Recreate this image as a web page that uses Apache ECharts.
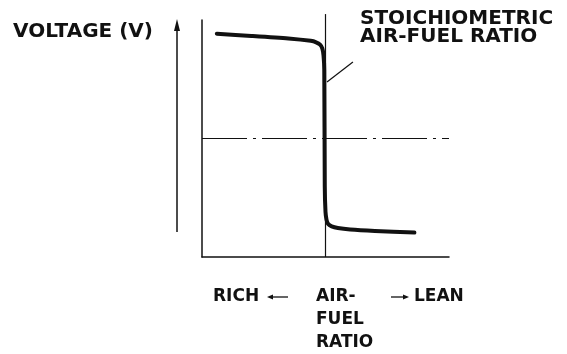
<!DOCTYPE html>
<html>
<head>
<meta charset="utf-8">
<script src="https://cdn.jsdelivr.net/npm/echarts@6/dist/echarts.min.js"></script>
<style>
  html, body { margin: 0; padding: 0; background: #fff; }
  #chart { width: 567px; height: 354px; }
</style>
</head>
<body>
<div id="chart"></div>
<script>
// Oxygen-sensor output voltage versus air-fuel ratio (arbitrary 0-10 units on both axes)
const airFuel = [0.6, 2.0, 3.5, 4.4, 4.62, 4.78, 4.87, 4.92, 4.95, 4.97, 5.0, 5.04, 5.1, 5.25, 5.5, 6.0, 7.0, 8.6];
const voltage = [9.42, 9.33, 9.22, 9.12, 9.06, 8.96, 8.8, 8.5, 7.9, 3.0, 1.9, 1.58, 1.4, 1.29, 1.22, 1.16, 1.10, 1.03];

// Stoichiometric air-fuel ratio and the mid-scale reference voltage
const stoichRatio = 5;
const stoichTop = 10.25;
const referenceVoltage = 5;
const axisMax = 10;

// Leader from the curve to the "stoichiometric" caption
const leaderX = [5.06, 6.11];
const leaderY = [7.38, 8.23];

const yLabel = 'VOLTAGE (V)';
const stoichLabel = ['STOICHIOMETRIC', 'AIR-FUEL RATIO'];
const richLabel = 'RICH';
const leanLabel = 'LEAN';
const midLabel = ['AIR-', 'FUEL', 'RATIO'];

const ink = '#111';
const font = '"DejaVu Sans", sans-serif';

const zip = (xs, ys) => xs.map((x, i) => [x, ys[i]]);

const chart = echarts.init(document.getElementById('chart'), null, { renderer: 'canvas' });

const axisCommon = {
  type: 'value',
  min: 0,
  max: axisMax,
  axisLine: { show: true, lineStyle: { color: ink, width: 1.5 } },
  axisTick: { show: false },
  axisLabel: { show: false },
  splitLine: { show: false }
};

// bold caption helper, vertically centred on y
const caption = (text, x, y, size) => ({
  type: 'text', x: x, y: y,
  style: { text: text, font: 'bold ' + size + 'px ' + font, fill: ink, verticalAlign: 'middle' }
});

chart.setOption({
  animation: false,
  backgroundColor: '#fff',
  grid: { left: 202, right: 118, top: 20, bottom: 97 },
  xAxis: Object.assign({}, axisCommon),
  yAxis: Object.assign({}, axisCommon),
  series: [
    {
      // reference voltage, dash-dot
      type: 'line',
      data: [[0, referenceVoltage], [axisMax, referenceVoltage]],
      symbol: 'none',
      lineStyle: { color: ink, width: 1.2, type: [45, 6, 3, 6] },
      silent: true
    },
    {
      // stoichiometric ratio marker
      type: 'line',
      data: [[stoichRatio, 0], [stoichRatio, stoichTop]],
      symbol: 'none',
      clip: false,
      lineStyle: { color: ink, width: 1.2 },
      silent: true
    },
    {
      type: 'line',
      data: zip(leaderX, leaderY),
      symbol: 'none',
      clip: false,
      lineStyle: { color: ink, width: 1.2 },
      silent: true
    },
    {
      // sensor output curve
      type: 'line',
      data: zip(airFuel, voltage),
      symbol: 'none',
      smooth: 0.25,
      lineStyle: { color: ink, width: 4, cap: 'round', join: 'round' },
      silent: true
    }
  ],
  graphic: [
    // free-standing voltage arrow
    { type: 'line', shape: { x1: 177, y1: 232, x2: 177, y2: 26 }, style: { stroke: ink, lineWidth: 1.5 } },
    { type: 'polygon', shape: { points: [[174, 31], [177, 19], [180, 31]] }, style: { fill: ink } },
    caption(yLabel, 13, 32, 20),
    caption(stoichLabel[0], 360, 19, 20),
    caption(stoichLabel[1], 360, 37, 20),
    caption(richLabel, 213, 297, 17),
    caption(midLabel[0], 316, 297, 17),
    caption(midLabel[1], 316, 320, 17),
    caption(midLabel[2], 316, 343, 17),
    caption(leanLabel, 414, 297, 17),
    // thin direction arrows beside RICH / LEAN
    { type: 'line', shape: { x1: 270, y1: 297, x2: 288, y2: 297 }, style: { stroke: ink, lineWidth: 1.3 } },
    { type: 'polygon', shape: { points: [[267, 297], [273, 294.5], [273, 299.5]] }, style: { fill: ink } },
    { type: 'line', shape: { x1: 391, y1: 297, x2: 406, y2: 297 }, style: { stroke: ink, lineWidth: 1.3 } },
    { type: 'polygon', shape: { points: [[409, 297], [403, 294.5], [403, 299.5]] }, style: { fill: ink } }
  ]
});
</script>
</body>
</html>
